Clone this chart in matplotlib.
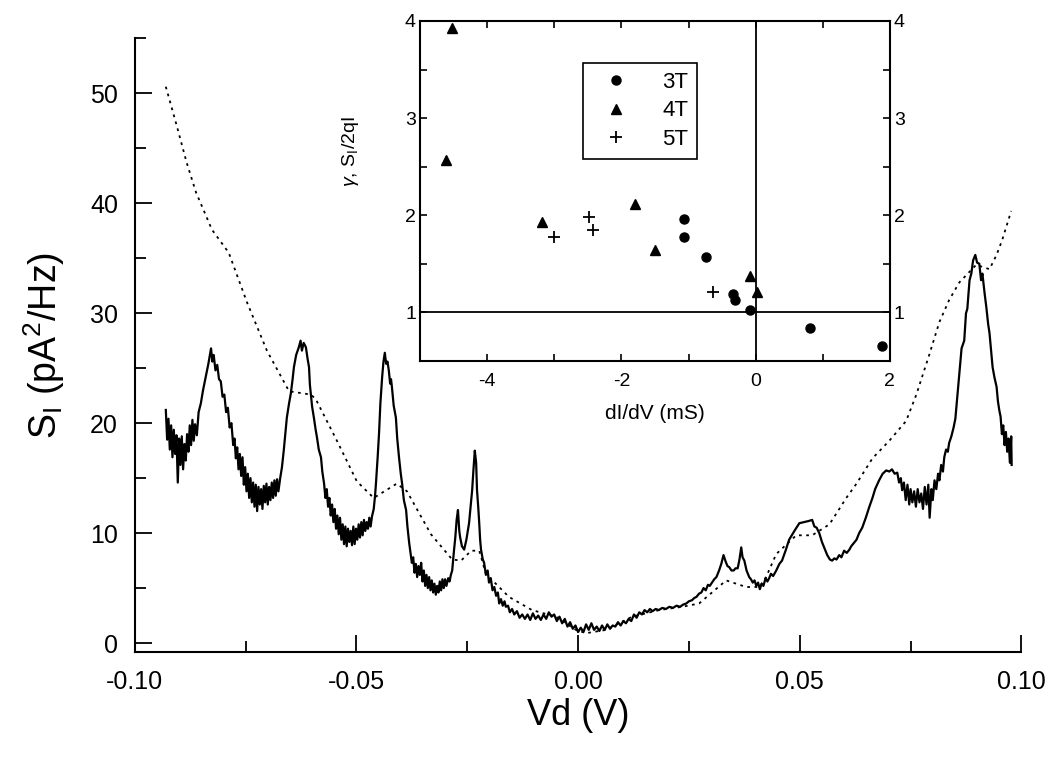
import matplotlib.pyplot as plt
from matplotlib.ticker import MultipleLocator, FormatStrFormatter

plt.rcParams['font.family'] = ['Liberation Sans', 'DejaVu Sans']
plt.rcParams['mathtext.fontset'] = 'custom'
plt.rcParams['mathtext.rm'] = 'Liberation Sans'
plt.rcParams['mathtext.it'] = 'Liberation Sans:italic'
plt.rcParams['axes.unicode_minus'] = False

# measured noise spectrum (solid, noisy trace)
vd_meas = [
    -0.0930, -0.0927, -0.0924, -0.0921, -0.0918, -0.0915, -0.0912, -0.0909, -0.0906, -0.0903,
    -0.0900, -0.0897, -0.0894, -0.0891, -0.0888, -0.0885, -0.0882, -0.0879, -0.0876, -0.0873,
    -0.0870, -0.0867, -0.0864, -0.0860, -0.0856, -0.0851, -0.0846, -0.0840, -0.0834, -0.0828,
    -0.0825, -0.0822, -0.0818, -0.0814, -0.0810, -0.0806, -0.0802, -0.0798, -0.0794, -0.0790,
    -0.0786, -0.0782, -0.0778, -0.0775, -0.0772, -0.0769, -0.0766, -0.0763, -0.0760, -0.0757,
    -0.0754, -0.0751, -0.0748, -0.0745, -0.0742, -0.0739, -0.0736, -0.0733, -0.0730, -0.0727,
    -0.0724, -0.0721, -0.0718, -0.0715, -0.0712, -0.0709, -0.0706, -0.0703, -0.0700, -0.0697,
    -0.0694, -0.0691, -0.0688, -0.0685, -0.0682, -0.0679, -0.0676, -0.0672, -0.0668, -0.0664,
    -0.0660, -0.0657, -0.0652, -0.0648, -0.0644, -0.0641, -0.0636, -0.0630, -0.0626, -0.0623,
    -0.0619, -0.0614, -0.0610, -0.0607, -0.0605, -0.0603, -0.0600, -0.0596, -0.0592, -0.0589,
    -0.0585, -0.0580, -0.0577, -0.0573, -0.0570, -0.0567, -0.0564, -0.0561, -0.0558, -0.0555,
    -0.0552, -0.0549, -0.0546, -0.0543, -0.0540, -0.0537, -0.0534, -0.0531, -0.0528, -0.0525,
    -0.0522, -0.0519, -0.0516, -0.0513, -0.0510, -0.0507, -0.0504, -0.0501, -0.0498, -0.0495,
    -0.0492, -0.0489, -0.0486, -0.0483, -0.0480, -0.0477, -0.0474, -0.0471, -0.0468, -0.0465,
    -0.0461, -0.0458, -0.0456, -0.0452, -0.0449, -0.0446, -0.0442, -0.0439, -0.0436, -0.0433,
    -0.0430, -0.0427, -0.0424, -0.0422, -0.0420, -0.0416, -0.0411, -0.0408, -0.0404, -0.0400,
    -0.0397, -0.0393, -0.0388, -0.0385, -0.0381, -0.0378, -0.0375, -0.0372, -0.0369, -0.0366,
    -0.0363, -0.0360, -0.0357, -0.0354, -0.0351, -0.0348, -0.0345, -0.0342, -0.0339, -0.0336,
    -0.0333, -0.0330, -0.0327, -0.0324, -0.0321, -0.0318, -0.0315, -0.0312, -0.0309, -0.0306,
    -0.0303, -0.0300, -0.0297, -0.0293, -0.0290, -0.0287, -0.0284, -0.0280, -0.0277, -0.0274,
    -0.0271, -0.0268, -0.0266, -0.0262, -0.0257, -0.0252, -0.0246, -0.0242, -0.0239, -0.0236,
    -0.0233, -0.0230, -0.0228, -0.0225, -0.0223, -0.0221, -0.0219, -0.0215, -0.0212, -0.0208,
    -0.0204, -0.0201, -0.0197, -0.0193, -0.0189, -0.0185, -0.0181, -0.0178, -0.0174, -0.0170,
    -0.0166, -0.0163, -0.0158, -0.0154, -0.0149, -0.0144, -0.0138, -0.0132, -0.0126, -0.0120,
    -0.0114, -0.0108, -0.0102, -0.0096, -0.0090, -0.0084, -0.0078, -0.0072, -0.0066, -0.0060,
    -0.0054, -0.0048, -0.0042, -0.0036, -0.0030, -0.0024, -0.0018, -0.0012, -0.0006, 0.0000,
    0.0006, 0.0012, 0.0018, 0.0024, 0.0030, 0.0036, 0.0042, 0.0048, 0.0054, 0.0060,
    0.0066, 0.0072, 0.0078, 0.0084, 0.0090, 0.0096, 0.0102, 0.0108, 0.0114, 0.0120,
    0.0126, 0.0132, 0.0138, 0.0144, 0.0150, 0.0156, 0.0162, 0.0168, 0.0175, 0.0182,
    0.0190, 0.0198, 0.0206, 0.0214, 0.0222, 0.0230, 0.0237, 0.0244, 0.0250, 0.0257,
    0.0262, 0.0267, 0.0273, 0.0278, 0.0283, 0.0288, 0.0293, 0.0297, 0.0302, 0.0307,
    0.0312, 0.0318, 0.0323, 0.0328, 0.0333, 0.0337, 0.0341, 0.0346, 0.0351, 0.0355,
    0.0360, 0.0364, 0.0368, 0.0371, 0.0375, 0.0380, 0.0386, 0.0390, 0.0394, 0.0398,
    0.0402, 0.0406, 0.0410, 0.0414, 0.0418, 0.0423, 0.0427, 0.0431, 0.0435, 0.0440,
    0.0447, 0.0454, 0.0460, 0.0468, 0.0476, 0.0488, 0.0499, 0.0510, 0.0520, 0.0528,
    0.0533, 0.0538, 0.0544, 0.0550, 0.0556, 0.0562, 0.0568, 0.0573, 0.0578, 0.0583,
    0.0589, 0.0594, 0.0600, 0.0606, 0.0612, 0.0616, 0.0620, 0.0624, 0.0628, 0.0634,
    0.0641, 0.0649, 0.0657, 0.0664, 0.0670, 0.0679, 0.0687, 0.0695, 0.0702, 0.0708,
    0.0714, 0.0720, 0.0724, 0.0728, 0.0731, 0.0735, 0.0739, 0.0743, 0.0747, 0.0750,
    0.0754, 0.0758, 0.0762, 0.0766, 0.0770, 0.0774, 0.0778, 0.0782, 0.0786, 0.0790,
    0.0793, 0.0797, 0.0800, 0.0804, 0.0808, 0.0812, 0.0815, 0.0819, 0.0823, 0.0826,
    0.0830, 0.0834, 0.0837, 0.0842, 0.0847, 0.0851, 0.0855, 0.0860, 0.0865, 0.0871,
    0.0875, 0.0878, 0.0883, 0.0887, 0.0891, 0.0896, 0.0900, 0.0905, 0.0909, 0.0912,
    0.0917, 0.0921, 0.0925, 0.0928, 0.0932, 0.0935, 0.0939, 0.0944, 0.0947, 0.0950,
    0.0953, 0.0956, 0.0959, 0.0962, 0.0965, 0.0968, 0.0971, 0.0974, 0.0977, 0.0978,
]
si_meas = [
    21.2, 18.5, 20.4, 17.6, 19.8, 16.9, 19.4, 17.2, 18.9, 14.6,
    18.6, 16.2, 18.8, 15.8, 18.1, 16.6, 19.0, 17.4, 19.8, 18.0,
    20.3, 18.4, 19.9, 18.9, 21.0, 21.8, 23.0, 24.2, 25.4, 26.8,
    25.6, 26.2, 24.8, 25.3, 24.0, 23.8, 22.4, 22.6, 21.0, 21.4,
    19.6, 20.0, 18.0, 18.6, 16.8, 17.8, 15.8, 17.2, 15.2, 16.9,
    14.4, 16.0, 13.8, 15.4, 13.2, 15.0, 12.8, 14.6, 12.4, 14.4,
    12.0, 14.2, 12.6, 14.0, 12.2, 14.3, 12.8, 14.5, 12.6, 14.2,
    13.0, 14.6, 13.2, 14.8, 13.4, 14.9, 13.8, 15.0, 16.0, 17.5,
    19.2, 20.5, 21.8, 22.7, 24.0, 25.1, 26.2, 26.9, 27.5, 26.6,
    27.3, 26.9, 25.8, 25.1, 23.5, 22.7, 21.5, 20.5, 19.4, 18.7,
    17.6, 16.9, 15.6, 14.5, 13.2, 14.0, 12.4, 13.2, 11.6, 12.6,
    11.0, 12.2, 10.4, 11.6, 9.9, 11.4, 9.4, 10.8, 9.0, 10.6,
    8.8, 10.4, 9.2, 10.2, 8.9, 10.6, 9.0, 10.4, 9.4, 10.8,
    9.6, 11.0, 9.8, 11.2, 10.2, 11.0, 10.4, 11.4, 10.6, 11.5,
    12.2, 13.4, 14.5, 17.0, 19.1, 21.8, 24.2, 25.6, 26.4, 25.4,
    25.6, 24.8, 23.6, 24.0, 23.3, 21.6, 20.5, 18.6, 16.9, 15.4,
    14.5, 13.0, 12.1, 10.6, 9.1, 8.2, 7.3, 7.8, 6.4, 7.2,
    6.0, 7.0, 6.2, 7.3, 5.6, 6.6, 5.2, 6.2, 5.0, 6.0,
    4.8, 5.7, 4.6, 5.4, 4.4, 5.2, 4.6, 5.6, 4.8, 5.8,
    5.0, 5.8, 5.2, 5.9, 5.6, 6.2, 6.6, 8.4, 9.6, 11.2,
    12.1, 10.2, 9.6, 8.8, 8.5, 9.4, 10.9, 12.6, 13.9, 15.8,
    17.5, 16.4, 13.9, 12.2, 10.9, 9.4, 8.5, 7.6, 7.3, 6.2,
    6.6, 5.5, 5.9, 4.8, 5.1, 4.3, 4.6, 3.6, 4.0, 3.4,
    3.8, 3.3, 3.4, 2.8, 3.1, 2.6, 2.9, 2.3, 2.6, 2.2,
    2.6, 2.1, 2.7, 2.2, 2.5, 2.1, 2.6, 2.2, 2.8, 2.4,
    2.6, 2.0, 2.4, 1.8, 2.2, 1.5, 1.9, 1.3, 1.6, 1.0,
    1.4, 1.0, 1.7, 1.2, 1.8, 1.2, 1.5, 1.1, 1.6, 1.2,
    1.7, 1.3, 1.6, 1.5, 1.9, 1.6, 2.0, 1.8, 2.2, 2.0,
    2.6, 2.3, 2.8, 2.6, 3.0, 2.8, 3.1, 2.9, 3.1, 3.0,
    3.2, 3.1, 3.3, 3.2, 3.4, 3.3, 3.5, 3.6, 3.8, 3.9,
    4.1, 4.2, 4.5, 4.6, 5.0, 4.8, 5.3, 5.2, 5.5, 5.8,
    6.0, 6.6, 7.2, 8.0, 7.4, 7.0, 6.9, 6.6, 6.6, 6.8,
    6.8, 7.6, 8.7, 7.8, 7.5, 6.6, 6.0, 5.8, 5.5, 5.7,
    5.2, 5.5, 4.9, 5.4, 5.2, 5.9, 5.6, 5.9, 6.3, 6.1,
    6.6, 7.2, 7.5, 8.4, 9.4, 10.2, 10.9, 11.0, 11.1, 11.2,
    10.6, 10.5, 10.0, 9.2, 8.6, 8.0, 7.6, 7.5, 7.7, 7.6,
    8.0, 7.8, 8.4, 8.2, 8.5, 8.8, 9.0, 9.2, 9.4, 10.0,
    10.5, 11.4, 12.4, 13.2, 14.0, 14.8, 15.4, 15.7, 15.6, 15.8,
    15.4, 15.5, 14.6, 15.0, 13.9, 14.6, 13.0, 14.4, 12.6, 14.0,
    12.8, 13.8, 12.4, 14.0, 12.8, 13.6, 12.2, 14.2, 12.6, 14.4,
    11.4, 14.0, 13.0, 14.8, 14.0, 15.4, 14.8, 16.2, 15.6, 16.9,
    17.6, 17.4, 18.2, 18.8, 19.6, 20.4, 22.2, 24.5, 26.8, 27.5,
    30.0, 30.4, 33.0, 33.6, 34.8, 35.3, 34.6, 34.5, 33.0, 33.6,
    31.8, 30.5, 29.0, 28.2, 26.4, 25.1, 24.2, 23.3, 22.0, 21.2,
    20.6, 19.0, 19.8, 18.0, 19.2, 17.4, 18.6, 16.4, 18.8, 16.2,
]

# smooth (dotted) curve
vd_calc = [
    -0.0930, -0.0905, -0.0883, -0.0862, -0.0826, -0.0788, -0.0747, -0.0702, -0.0652, -0.0603,
    -0.0592, -0.0544, -0.0499, -0.0461, -0.0409, -0.0386, -0.0332, -0.0284, -0.0264, -0.0241,
    -0.0223, -0.0208, -0.0156, -0.0104, -0.0050, -0.0005, 0.0018, 0.0063, 0.0122, 0.0183,
    0.0235, 0.0273, 0.0334, 0.0379, 0.0409, 0.0424, 0.0447, 0.0492, 0.0528, 0.0567,
    0.0605, 0.0628, 0.0664, 0.0702, 0.0740, 0.0763, 0.0792, 0.0815, 0.0837, 0.0860,
    0.0898, 0.0928, 0.0944, 0.0957, 0.0977,
]
si_calc = [
    50.6, 47.0, 43.7, 41.0, 37.6, 35.5, 31.0, 26.6, 22.9, 22.6,
    22.2, 18.4, 14.7, 13.2, 14.5, 13.8, 9.9, 7.6, 7.5, 8.4,
    8.4, 6.3, 4.2, 3.0, 2.4, 1.2, 0.9, 1.2, 2.4, 3.0,
    3.3, 3.6, 5.7, 5.1, 5.1, 6.0, 8.1, 9.8, 9.8, 10.8,
    13.2, 14.5, 16.8, 18.4, 20.2, 22.6, 26.2, 29.2, 31.2, 32.8,
    34.4, 34.0, 35.3, 36.7, 39.3,
]

# inset: gamma vs dI/dV
g3_x = [-1.06, -1.07, -0.74, -0.33, -0.30, -0.09, 0.81, 1.88]
g3_y = [1.96, 1.77, 1.57, 1.19, 1.13, 1.02, 0.84, 0.65]
g4_x = [-4.52, -4.62, -3.18, -1.80, -1.50, -0.09, 0.02]
g4_y = [3.93, 2.57, 1.93, 2.12, 1.64, 1.37, 1.21]
g5_x = [-2.49, -2.42, -3.01, -0.64]
g5_y = [1.98, 1.85, 1.77, 1.21]

fig = plt.figure(figsize=(10.53, 7.66), dpi=100)
ax = fig.add_axes([0.128, 0.149, 0.842, 0.801])

ax.plot(vd_meas, si_meas, color='black', lw=1.6)
ax.plot(vd_calc, si_calc, color='black', lw=1.3, dashes=(1.5, 2.5))

ax.set_xlim(-0.1, 0.1)
ax.set_ylim(-0.8, 55)
ax.spines['top'].set_visible(False)
ax.spines['right'].set_visible(False)
for s in ['left', 'bottom']:
    ax.spines[s].set_linewidth(1.5)
ax.xaxis.set_major_locator(MultipleLocator(0.05))
ax.xaxis.set_minor_locator(MultipleLocator(0.025))
ax.xaxis.set_major_formatter(FormatStrFormatter('%.2f'))
ax.yaxis.set_major_locator(MultipleLocator(10))
ax.yaxis.set_minor_locator(MultipleLocator(5))
ax.tick_params(which='both', direction='in', width=1.3, labelsize=18)
ax.tick_params(which='major', length=12)
ax.tick_params(which='minor', length=8)
ax.tick_params(axis='x', pad=13)
ax.tick_params(axis='y', pad=12)
ax.set_xlabel('Vd (V)', fontsize=26)
ax.set_ylabel(r'S$_\mathregular{I}$ (pA$^\mathregular{2}$/Hz)', fontsize=27)
ax.xaxis.set_label_coords(0.5, -0.075)
ax.yaxis.set_label_coords(-0.077, 0.5)

# inset
axi = fig.add_axes([0.399, 0.529, 0.446, 0.4436])
axi.axhline(1, color='black', lw=1.3)
axi.axvline(0, color='black', lw=1.3)
axi.plot(g3_x, g3_y, 'o', color='black', ms=6.5, label='3T')
axi.plot(g4_x, g4_y, '^', color='black', ms=7.5, label='4T')
axi.plot(g5_x, g5_y, '+', color='black', ms=9, mew=1.3, label='5T')
axi.set_xlim(-5, 2)
axi.set_ylim(0.5, 4)
for s in axi.spines.values():
    s.set_linewidth(1.5)
axi.xaxis.set_major_locator(MultipleLocator(2))
axi.xaxis.set_minor_locator(MultipleLocator(1))
axi.yaxis.set_major_locator(MultipleLocator(1))
axi.yaxis.set_minor_locator(MultipleLocator(0.5))
axi.tick_params(which='both', direction='in', top=True, right=True, labelright=True,
                width=1.2, length=5, labelsize=14)
axi.tick_params(axis='x', pad=9)
axi.tick_params(axis='y', pad=3)
axi.set_xlabel('dI/dV (mS)', fontsize=15, labelpad=10)
axi.set_ylabel(r'$\gamma$, S$_\mathregular{I}$/2qI', fontsize=14)
axi.yaxis.set_label_coords(-0.125, 0.615)
leg = axi.legend(loc='upper left', bbox_to_anchor=(0.347, 0.876), fontsize=16,
                 frameon=True, fancybox=False, edgecolor='black', framealpha=1,
                 handlelength=2.2, handletextpad=0.95, labelspacing=0.33,
                 borderpad=0.4, borderaxespad=0)
leg.get_frame().set_linewidth(1.2)

fig.savefig('out.png', dpi=100)
